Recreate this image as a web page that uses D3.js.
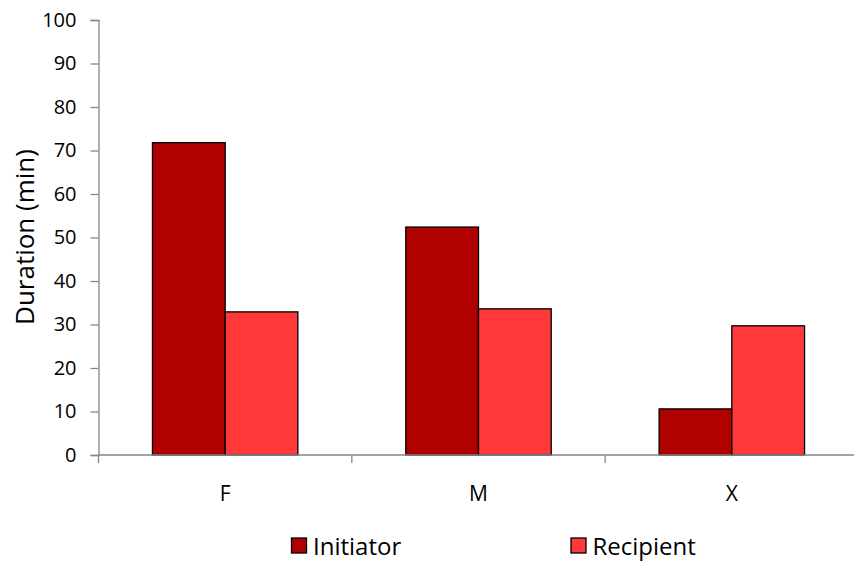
<!DOCTYPE html>
<html>
<head>
<meta charset="utf-8">
<script src="https://cdn.jsdelivr.net/npm/d3@7"></script>
<style>
  html, body { margin: 0; padding: 0; background: #fff; }
  svg { display: block; font-family: "Open Sans", "Noto Sans", sans-serif; }
</style>
</head>
<body>
<svg id="chart" width="854" height="563"></svg>
<script>
// Mean duration of interactions by sex of the partner
const categories = ["F", "M", "X"];
const seriesNames = ["Initiator", "Recipient"];
const initiator = [71.8, 52.4, 10.6];
const recipient = [32.9, 33.6, 29.7];
const yTicks = [0, 10, 20, 30, 40, 50, 60, 70, 80, 90, 100];
const colors = ["#B00000", "#FF3939"];

const svg = d3.select("#chart");
const axisColor = "#868686";
const font = "'Open Sans', 'Noto Sans', sans-serif";

const x0 = d3.scaleBand().domain(categories).range([98.5, 858.5]).paddingInner(0).paddingOuter(0);
const x1 = d3.scaleBand().domain(seriesNames).range([0, x0.bandwidth()]).paddingInner(0).paddingOuter(0.742);
const y = d3.scaleLinear().domain([0, 100]).range([455, 20]);

const rows = categories.map((c, i) => ({ cat: c, values: [initiator[i], recipient[i]] }));

// Bars
const groups = svg.append("g").selectAll("g").data(rows).join("g")
  .attr("transform", d => `translate(${x0(d.cat)},0)`);
groups.selectAll("rect").data(d => d.values.map((v, j) => ({ name: seriesNames[j], v, j })))
  .join("rect")
  .attr("x", d => x1(d.name))
  .attr("width", x1.bandwidth())
  .attr("y", d => y(d.v))
  .attr("height", d => y(0) - y(d.v))
  .attr("fill", d => colors[d.j])
  .attr("stroke", "#000")
  .attr("stroke-width", 1.3);

// Y axis
const yAxis = svg.append("g").attr("transform", "translate(98.5,0)")
  .call(d3.axisLeft(y).tickValues(yTicks).tickSize(8).tickPadding(14).tickFormat(d3.format("d")));
yAxis.select(".domain").attr("stroke", axisColor).attr("stroke-width", 1.3);
yAxis.selectAll(".tick line").attr("stroke", axisColor).attr("stroke-width", 1.3);
yAxis.selectAll(".tick text").attr("fill", "#000").attr("font-size", 20)
  .attr("font-family", font);

// X axis with tick marks at category boundaries
const xAxisG = svg.append("g").attr("transform", `translate(0,${y(0)})`);
xAxisG.append("line").attr("x1", 98.5).attr("x2", 858.5).attr("y1", 0).attr("y2", 0)
  .attr("stroke", axisColor).attr("stroke-width", 1.3);
const boundaries = categories.map(c => x0(c));
xAxisG.selectAll("line.tk").data(boundaries).join("line").attr("class", "tk")
  .attr("x1", d => d).attr("x2", d => d).attr("y1", 0).attr("y2", 8)
  .attr("stroke", axisColor).attr("stroke-width", 1.3);
xAxisG.selectAll("text").data(categories).join("text")
  .attr("x", d => x0(d) + x0.bandwidth() / 2)
  .attr("y", 45.5)
  .attr("text-anchor", "middle")
  .attr("font-size", 21)
  .attr("font-family", font)
  .attr("fill", "#000")
  .text(d => d);

// Y axis title
svg.append("text")
  .attr("transform", "translate(34,237) rotate(-90)")
  .attr("text-anchor", "middle")
  .attr("font-size", 26)
  .attr("font-family", font)
  .attr("fill", "#000")
  .text("Duration (min)");

// Legend
const legendX = [291.5, 571];
const legend = svg.append("g").selectAll("g").data(seriesNames).join("g")
  .attr("transform", (d, i) => `translate(${legendX[i]},538)`);
legend.append("rect").attr("width", 15).attr("height", 15)
  .attr("fill", (d, i) => colors[i]).attr("stroke", "#000").attr("stroke-width", 1.3);
legend.append("text").attr("x", 21.5).attr("y", 16.5)
  .attr("font-size", 24).attr("font-family", font)
  .attr("fill", "#000").text(d => d);
</script>
</body>
</html>
